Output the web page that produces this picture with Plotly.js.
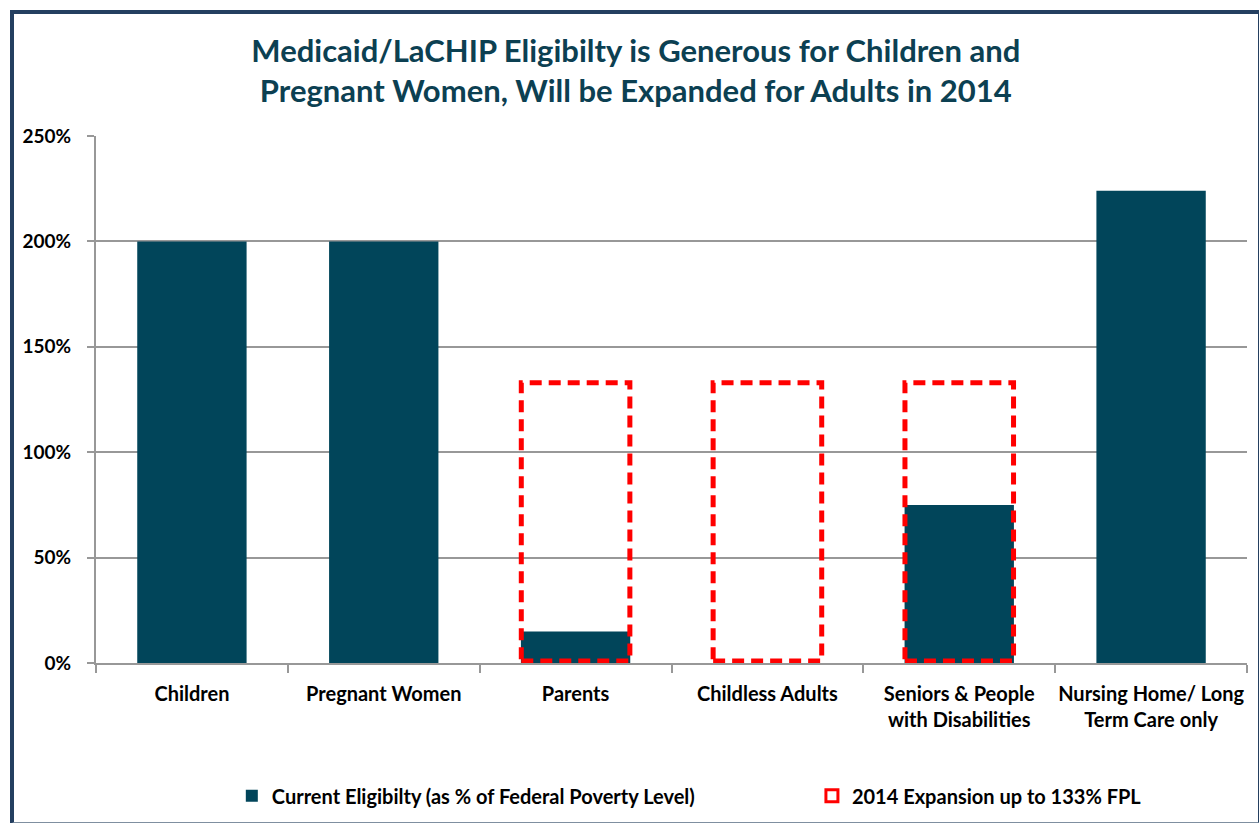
<!DOCTYPE html>
<html><head><meta charset="utf-8">
<script src="https://cdn.plot.ly/plotly-3.0.1.min.js"></script>
<style>
html,body{margin:0;padding:0;background:#fff;}
#wrap{position:relative;width:1259px;height:823px;}
#chart{position:absolute;left:0;top:0;width:1259px;height:823px;}
#frame{position:absolute;left:10px;top:10px;width:1244px;height:808px;border-left:4px solid #243F60;border-top:4px solid #243F60;border-right:3px solid #243F60;border-bottom:2px solid #7F8FA0;pointer-events:none;}
</style></head>
<body><div id="wrap"><div id="chart"></div><div id="frame"></div></div>
<script>
var categories = ["Children","Pregnant Women","Parents","Childless Adults","Seniors & People<br>with Disabilities","Nursing Home/ Long<br>Term Care only"];
var currentEligibility = [200, 200, 15, 0, 75, 224];
var expansion2014 = [null, null, 133, 133, 133, null];
var yTickVals = [0, 50, 100, 150, 200, 250];
var yTickText = ["0%","50%","100%","150%","200%","250%"];
var currentName = "Current Eligibilty (as % of Federal Poverty Level)";
var expansionName = "2014 Expansion up to 133% FPL";

var FONT = "Lato, 'Liberation Sans', sans-serif";
var barW = 0.57;

var shapes = [];
expansion2014.forEach(function(v, i){
  if (v === null) return;
  shapes.push({type:'rect', xref:'x', yref:'y', x0:i-0.283, x1:i+0.283, y0:1, y1:v,
    line:{color:'#FF0000', width:5, dash:'12px,7px'}, fillcolor:'rgba(0,0,0,0)', layer:'above'});
});

var traces = [
  {type:'bar', x:categories, y:currentEligibility, name:currentName, width:barW,
   marker:{color:'#01455A', line:{width:0}}, hoverinfo:'y', legend:'legend'},
  {type:'bar', x:categories, y:expansion2014.map(function(){return null;}), name:expansionName, width:barW,
   marker:{color:'rgba(255,255,255,1)', line:{color:'#FF0000', width:3}}, hoverinfo:'skip', legend:'legend2'}
];

var legFont = {family:FONT, size:20, color:'#000', weight:'bold'};
var layout = {
  width:1259, height:823,
  margin:{l:96, r:12, t:136, b:160, autoexpand:false},
  paper_bgcolor:'#fff', plot_bgcolor:'#fff',
  barmode:'overlay',
  title:{text:'Medicaid/LaCHIP Eligibilty is Generous for Children and<br>Pregnant Women, Will be Expanded for Adults in 2014',
    font:{family:FONT, size:31, color:'#0C4052', weight:'bold', lineposition:'none'}, x:0.505, xanchor:'center', y:0.925, yanchor:'middle'},
  xaxis:{type:'category', showline:true, linecolor:'#989898', linewidth:2, ticks:'outside', tickson:'boundaries',
    ticklen:8, tickcolor:'#989898', tickwidth:2, showgrid:false, tickangle:0, automargin:false, ticklabelstandoff:12,
    tickfont:{family:FONT, size:20, color:'#000', weight:'bold'}, fixedrange:true},
  yaxis:{range:[0,250], tickvals:yTickVals, ticktext:yTickText, showline:true, linecolor:'#989898', linewidth:2,
    ticks:'outside', ticklen:7, tickcolor:'#989898', tickwidth:2, showgrid:true, gridcolor:'#989898', gridwidth:2,
    zeroline:false, tickfont:{family:FONT, size:19, color:'#000', weight:'bold'}, ticklabelstandoff:12, fixedrange:true, automargin:false},
  showlegend:true,
  legend:{orientation:'h', x:0.118, xanchor:'left', y:-0.252, yanchor:'middle', font:legFont, itemwidth:30, bgcolor:'rgba(0,0,0,0)'},
  legend2:{orientation:'h', x:0.622, xanchor:'left', y:-0.252, yanchor:'middle', font:legFont, itemwidth:30, bgcolor:'rgba(0,0,0,0)'},
  shapes:shapes
};
Plotly.newPlot('chart', traces, layout, {displayModeBar:false, staticPlot:true});
</script></body></html>
